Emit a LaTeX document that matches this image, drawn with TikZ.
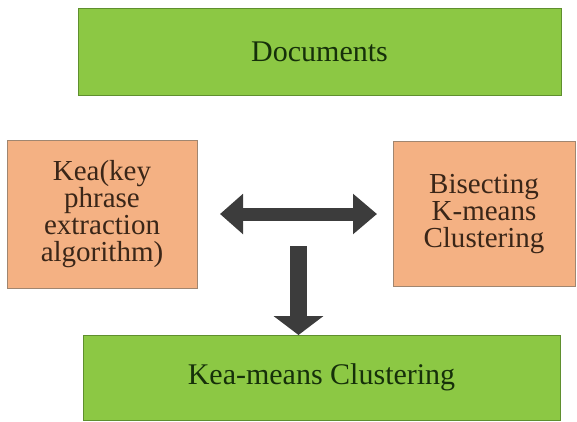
\documentclass[tikz,border=0pt]{standalone}
\usepackage{fontspec}
\setmainfont{Liberation Serif}
\usepackage{tikz}
\usetikzlibrary{positioning, arrows.meta}
\definecolor{leaf}{HTML}{8CC844}
\definecolor{leafedge}{HTML}{5F8F2E}
\definecolor{leaftext}{HTML}{16300A}
\definecolor{peach}{HTML}{F4B183}
\definecolor{peachedge}{HTML}{A08670}
\definecolor{peachtext}{HTML}{3A2618}
\definecolor{darrow}{HTML}{3C3C3C}
\tikzset{
    stage/.style = {rectangle, draw = leafedge, fill = leaf, line width = 1pt, text = leaftext, inner sep = 0pt, outer sep = 0pt, font = \rmfamily\fontsize{30}{27}\selectfont},
    method/.style = {rectangle, draw = peachedge, fill = peach, line width = 1pt, text = peachtext, align = center, inner sep = 0pt, outer sep = 0pt, font = \rmfamily\fontsize{29}{27}\selectfont},
    flow/.style = {draw = darrow, line width = 13pt},
    x = 1pt, y = -1pt
}
\begin{document}
\begin{tikzpicture}
        \useasboundingbox (0,0) rectangle (577,421);
        \node [stage, minimum width = 483pt, minimum height = 87pt] (docs) at (319.5,51.5) {Documents};
        \node [method, minimum width = 190pt, minimum height = 148pt] (kea) at (102,214) {Kea(key\\phrase\\extraction\\algorithm)};
        \node [method, minimum width = 182pt, minimum height = 145pt] (bkm) at (484,214) {Bisecting\\K-means\\Clustering};
        \node [stage, minimum width = 477pt, minimum height = 85pt] (keam) at (321.5,377.5) {Kea-means Clustering};
        \coordinate (fork) at (298.5,246);
        \draw [flow, {Triangle[length = 23pt, width = 39pt]}-{Triangle[length = 24pt, width = 39pt]}, shorten < = 23pt, shorten > = 16pt] (kea.east) -- (bkm.west);
        \draw [flow, line width = 17pt, -{Triangle[length = 19pt, width = 49pt]}] (fork) -- (fork |- keam.north);
    \end{tikzpicture}
\end{document}
